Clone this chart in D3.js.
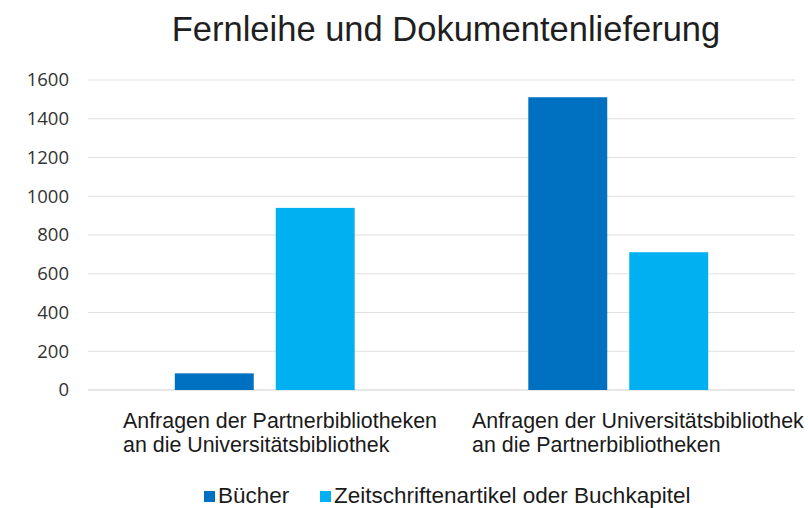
<!DOCTYPE html>
<html>
<head>
<meta charset="utf-8">
<script src="https://cdn.jsdelivr.net/npm/d3@7"></script>
<style>
  body { margin: 0; background: #fff; }
  text { font-family: "Liberation Sans", Arial, sans-serif; }
</style>
</head>
<body>
<svg id="wrapper" width="808" height="508"></svg>
<script>
let categories = [
	["Anfragen der Partnerbibliotheken", "an die Universitätsbibliothek"],
	["Anfragen der Universitätsbibliothek", "an die Partnerbibliotheken"],
];
let seriesNames = ["Bücher", "Zeitschriftenartikel oder Buchkapitel"];
let buecher = [86, 1511];
let zeitschriften = [940, 711];
let yTicks = [0, 200, 400, 600, 800, 1000, 1200, 1400, 1600];
let colors = ["#0070C0", "#00B0F0"];

let svg = d3.select("#wrapper");
let plotLeft = 88, plotRight = 795, plotTop = 80, plotBottom = 390;

let x = d3.scaleBand().domain([0, 1]).range([plotLeft, plotRight]);
let xInner = d3.scaleBand().domain([0, 1]).range([0, x.bandwidth()]).paddingInner(0.218).paddingOuter(0.86);
let y = d3.scaleLinear().domain([0, 1600]).range([plotBottom, plotTop]);

// title
svg.append("text")
	.attr("x", 446).attr("y", 41)
	.attr("text-anchor", "middle")
	.attr("font-size", 34.5)
	.attr("fill", "#1f1f1f")
	.text("Fernleihe und Dokumentenlieferung");

// grid
svg.append("g")
	.selectAll("line")
	.data(yTicks)
	.enter()
	.append("line")
	.attr("x1", plotLeft).attr("x2", plotRight)
	.attr("y1", (d) => y(d)).attr("y2", (d) => y(d))
	.attr("stroke", (d) => (d === 0 ? "#cfcfcf" : "#e0e0e0"))
	.attr("stroke-width", 1.2);

// y axis labels
let yAxis = d3.axisLeft(y).tickValues(yTicks).tickFormat(d3.format("d")).tickSize(0).tickPadding(19);
let gy = svg.append("g").attr("transform", "translate(" + plotLeft + ",0)").call(yAxis);
gy.select(".domain").remove();
gy.selectAll("text")
	.attr("font-size", 18.5)
	.attr("fill", "#333")
	.style("font-family", '"Open Sans", "Liberation Sans", sans-serif');

// bars
let series = [buecher, zeitschriften];
series.forEach((values, s) => {
	svg.append("g")
		.selectAll("rect")
		.data(values)
		.enter()
		.append("rect")
		.attr("x", (d, i) => x(i) + xInner(s))
		.attr("width", xInner.bandwidth())
		.attr("y", (d) => y(d))
		.attr("height", (d) => y(0) - y(d))
		.attr("fill", colors[s]);
});

// category labels (two lines, left aligned)
let catOffsets = [35, 30.5];
categories.forEach((lines, i) => {
	let t = svg.append("text")
		.attr("font-size", 21.4)
		.attr("fill", "#1a1a1a");
	lines.forEach((line, k) => {
		t.append("tspan")
			.attr("x", x(i) + catOffsets[i])
			.attr("y", 428 + k * 24)
			.text(line);
	});
});

// legend
let legendPos = [204, 320];
seriesNames.forEach((name, s) => {
	svg.append("rect")
		.attr("x", legendPos[s]).attr("y", 491)
		.attr("width", 11).attr("height", 11)
		.attr("fill", colors[s]);
	svg.append("text")
		.attr("x", legendPos[s] + 14).attr("y", 503)
		.attr("font-size", 22.5)
		.attr("fill", "#1a1a1a")
		.text(name);
});
</script>
</body>
</html>
